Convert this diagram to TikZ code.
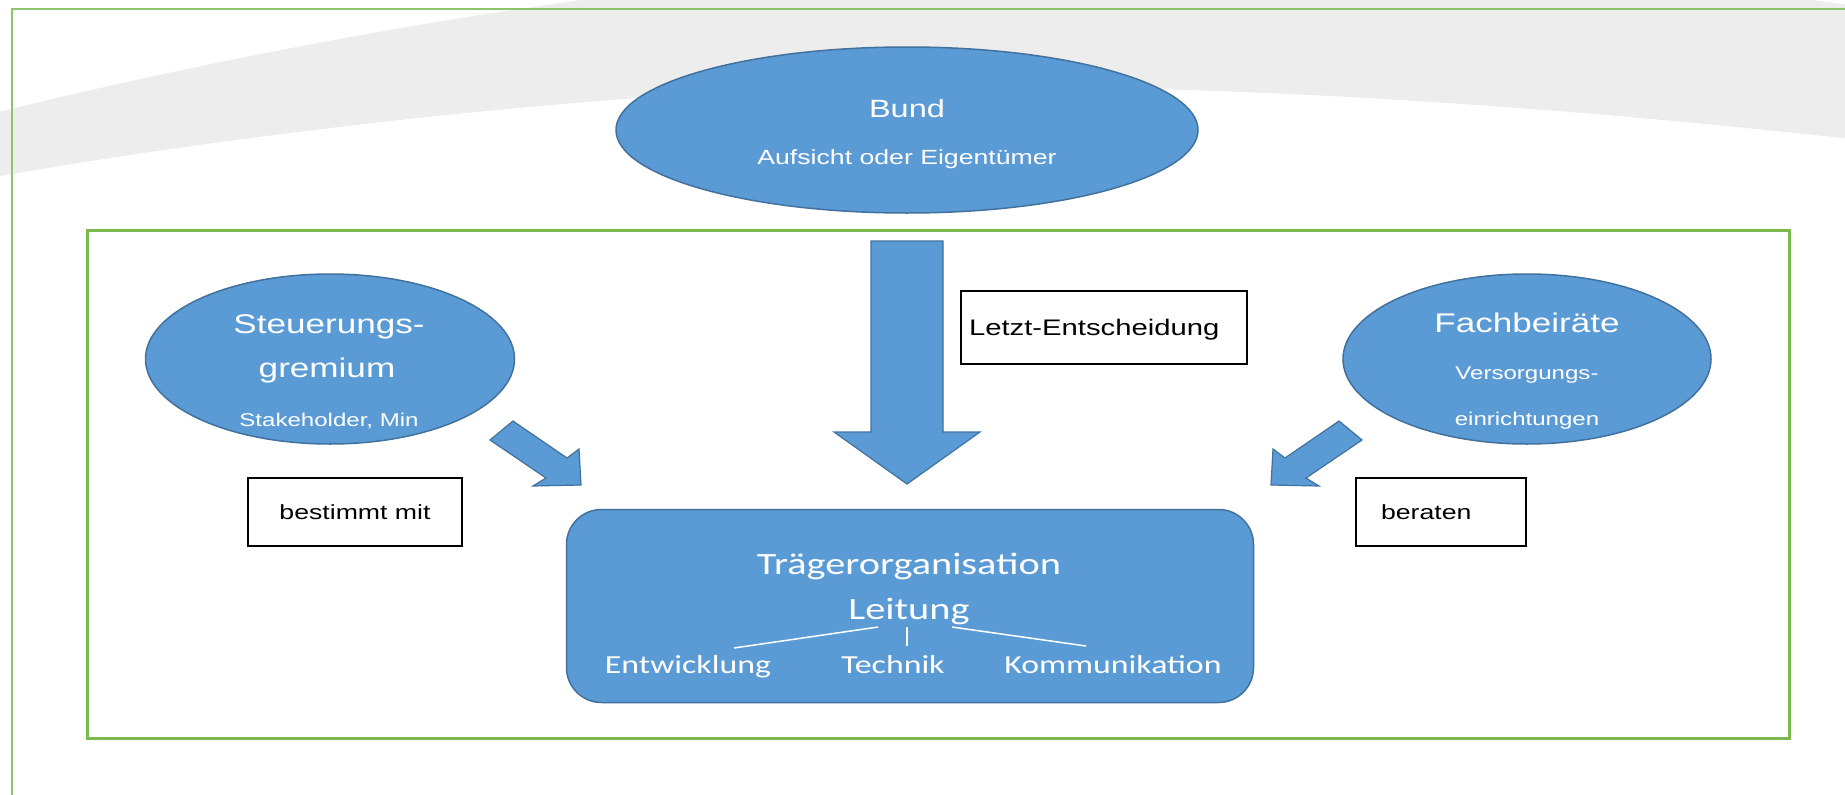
\documentclass[tikz,border=0pt]{standalone}
\usepackage{fontspec}
\setmainfont{Liberation Sans}[FakeStretch=1.3]
\newfontfamily\calibrifont{Carlito}[FakeStretch=1.3]
\usepackage{xcolor}
\usepackage{tikz}
\usetikzlibrary{shapes.geometric}
\definecolor{ofblue}{HTML}{5B9BD5}
\definecolor{ofedge}{HTML}{41719C}
\definecolor{frgreen}{HTML}{7CBA50}
\definecolor{swooshgray}{HTML}{EDEDED}
\newcommand\pxsize[1]{\fontsize{#1}{#1}\selectfont}

\begin{document}
\begin{tikzpicture}[x=1pt,y=-1pt,
    oval/.style={ellipse,fill=ofblue,draw=ofedge,line width=1.5pt,inner sep=0pt},
    wtext/.style={anchor=base,text=white,inner sep=0pt},
    labelbox/.style={draw=black,line width=2pt,fill=white,inner sep=0pt,font=\pxsize{20.5},text depth=0pt},
    blockarrow/.style={fill=ofblue,draw=ofedge,line width=1.2pt,line join=miter},
    orgbox/.style={rounded corners=35pt,fill=ofblue,draw=ofedge,line width=1.5pt,inner sep=0pt},
    subline/.style={white,line width=1.5pt}]
  \useasboundingbox (0,0) rectangle (1845,795);
  \clip (0,0) rectangle (1845,795);
  % background swoosh and frames
  \fill[swooshgray] (-10,114) .. controls (250,50) and (550,-5) .. (850,-30) -- (1500,-30)
    .. controls (1700,-20) and (1800,0) .. (1860,6) -- (1860,140)
    .. controls (1500,100) and (1200,85) .. (920,86)
    .. controls (600,88) and (200,140) .. (-10,178) -- cycle;
  \draw[frgreen!85!white,line width=2.5pt] (12,800) -- (12,9) -- (1850,9);
  \draw[frgreen,line width=3pt] (87,230) rectangle (1789,738);

  % Bund
  \node[oval,minimum width=582pt,minimum height=166pt] (bund) at (907,130) {};
  \node[wtext,font=\pxsize{25}] (bundname) at (907,117) {Bund};
  \node[wtext,font=\pxsize{20.5}] (bundrole) at (907,164) {Aufsicht oder Eigentümer};

  % Steuerungsgremium
  \node[oval,minimum width=369pt,minimum height=170pt] (steuer) at (330,359) {};
  \node[wtext,font=\pxsize{27}] (steuer1) at (329,333) {Steuerungs-};
  \node[wtext,font=\pxsize{27}] (steuer2) at (327,377) {gremium};
  \node[wtext,font=\pxsize{18.5}] (steuer3) at (329,426) {Stakeholder, Min};

  % Fachbeiraete
  \node[oval,minimum width=368pt,minimum height=170pt] (fach) at (1527,359) {};
  \node[wtext,font=\pxsize{27}] (fach1) at (1527,332) {Fachbeiräte};
  \node[wtext,font=\pxsize{18.5}] (fach2) at (1527,379) {Versorgungs-};
  \node[wtext,font=\pxsize{18.5}] (fach3) at (1527,425) {einrichtungen};

  % Pfeile
  \filldraw[blockarrow] (871,241) -- (943,241) -- (943,432) -- (980,432) -- (907,484)
    -- (834,432) -- (871,432) -- cycle;
  \filldraw[blockarrow] (490,440) -- (513,421) -- (567,458) -- (579,449) -- (581,485)
    -- (533,486) -- (546,478) -- cycle;
  \filldraw[blockarrow] (1362,440) -- (1339,421) -- (1285,458) -- (1273,449) -- (1271,485)
    -- (1319,486) -- (1306,478) -- cycle;

  % Beschriftungen
  \node[labelbox,minimum height=73pt,font=\pxsize{22.5},inner xsep=8pt,text width=270pt,align=left] (letzt) at (1104,327) {Letzt-Entscheidung};
  \node[labelbox,minimum width=214pt,minimum height=68pt] (bestimmt) at (355,512) {bestimmt mit};
  \node[labelbox,minimum height=68pt,inner xsep=25pt,text width=120pt,align=left] (beraten) at (1441,512) {beraten};

  % Traegerorganisation
  \node[orgbox,minimum width=687pt,minimum height=193pt] (traeger) at (910,606) {};
  \node[wtext,font=\calibrifont\pxsize{31}] (traegername) at (909,574) {Trägerorganisation};
  \node[wtext,font=\calibrifont\pxsize{31}] (leitung) at (909,619) {Leitung};
  \node[wtext,font=\calibrifont\pxsize{26}] (entw) at (688,673) {Entwicklung};
  \node[wtext,font=\calibrifont\pxsize{26}] (technik) at (893,673) {Technik};
  \node[wtext,font=\calibrifont\pxsize{26}] (komm) at (1113,673) {Kommunikation};
  \coordinate (forkl) at (878,627);
  \coordinate (forkm) at (907,627);
  \coordinate (forkr) at (952,627);
  \coordinate (endl) at (734,648);
  \coordinate (endm) at (907,646);
  \coordinate (endr) at (1086,646);
  \draw[subline] (forkl) -- (endl);
  \draw[subline] (forkm) -- (endm);
  \draw[subline] (forkr) -- (endr);
\end{tikzpicture}
\end{document}
